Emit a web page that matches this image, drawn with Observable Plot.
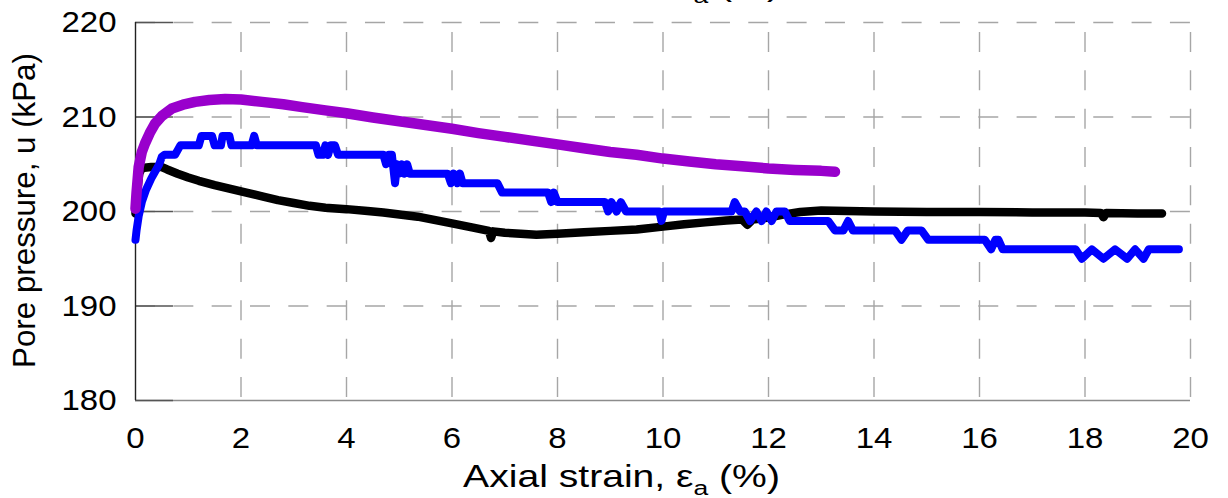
<!DOCTYPE html>
<html><head><meta charset="utf-8">
<script src="https://cdn.jsdelivr.net/npm/d3@7"></script>
<script src="https://cdn.jsdelivr.net/npm/@observablehq/plot@0.6"></script>
<style>
body{margin:0;background:#fff;}
#chart{position:relative;width:1228px;height:498px;overflow:hidden;}
</style></head><body><div id="chart"></div>
<script>
const xTicks = [0,2,4,6,8,10,12,14,16,18,20];
const yTicks = [180,190,200,210,220];
const xLabel = ["Axial strain, ε", "a", " (%)"];
const yLabel = "Pore pressure, u (kPa)";

const purpleStrain = [0,0.02,0.06,0.12,0.18,0.27,0.37,0.5,0.69,0.9,1.13,1.4,1.7,2.0,2.4,2.8,3.16,3.6,4.0,4.5,5.0,5.5,6.0,6.5,7.0,7.5,8.0,8.5,9.0,9.5,10.0,10.5,11.0,11.5,12.0,12.5,13.0,13.26];
const purplePressure = [200.3,202,204.7,206.3,207.2,208.3,209.3,210.1,210.9,211.3,211.6,211.8,211.9,211.85,211.6,211.35,211.05,210.7,210.4,209.95,209.55,209.15,208.75,208.3,207.9,207.5,207.1,206.7,206.3,206.0,205.6,205.3,205.0,204.8,204.55,204.4,204.3,204.2];

const blueStrain = [0,0.02,0.06,0.12,0.2,0.3,0.37,0.45,0.5,0.55,0.75,0.8,0.85,1.2,1.25,1.45,1.5,1.62,1.65,1.78,1.82,2.2,2.25,2.3,3.42,3.47,3.55,3.6,3.65,3.7,3.78,3.84,4.7,4.75,4.8,4.86,4.92,4.96,5.0,5.05,5.1,5.15,5.2,5.92,5.98,6.03,6.1,6.15,6.2,6.86,6.95,7.82,7.88,7.93,8.0,8.9,8.96,9.02,9.12,9.2,9.3,9.93,9.97,10.02,11.3,11.36,11.46,11.55,11.65,11.77,11.87,11.96,12.06,12.15,12.31,12.4,13.13,13.26,13.42,13.51,13.6,14.4,14.52,14.64,14.9,15.03,16.1,16.22,16.3,16.36,16.44,17.82,17.94,18.13,18.35,18.57,18.8,18.95,19.11,19.21,19.78];
const bluePressure = [197,198,199.5,201,202.3,203.5,204.2,205,205.8,206,206,206.5,207,207,208,208,207,207,208,208,207,207,208,207,207,206,206,207,206,207,207,206,206,205,206,206,203,205,204,205,204,205,204,204,203,204,203,204,203,203,202,202,201,202,201,201,200,201,200,201,200,200,199,200,200,201,200,200,199,200,199,200,199,200,200,199,199,198,198,199,198,198,197,198,198,197,197,196,197,197,196,196,195,196,195,196,195,196,195,196,196];

const blackStrain = [0,0.03,0.07,0.12,0.3,0.5,0.6,0.8,1.0,1.2,1.5,1.8,2.1,2.4,2.7,3.0,3.3,3.6,4.0,4.4,4.7,5.35,6.0,6.4,6.7,6.74,6.78,7.0,7.3,7.6,8.0,8.5,9.0,9.5,10.0,10.4,10.8,11.2,11.5,11.6,11.7,12.0,12.3,12.6,13.0,13.5,14,15,16,17,18,18.3,18.35,18.4,19,19.46];
const blackPressure = [199.8,202,204,204.6,204.7,204.7,204.45,204.0,203.6,203.25,202.8,202.4,202.0,201.6,201.2,200.9,200.6,200.4,200.25,200.05,199.9,199.45,198.75,198.3,197.95,197.2,197.9,197.75,197.65,197.55,197.65,197.8,197.95,198.1,198.4,198.65,198.85,199.05,199.15,198.6,199.15,199.35,199.7,199.95,200.1,200.05,200.0,199.95,199.95,199.9,199.9,199.85,199.4,199.85,199.8,199.8];

const gridStyle = {stroke:"#a6a6a6", strokeOpacity:1, strokeWidth:1.4, strokeDasharray:"20,18.33"};
const series = (xs, ys, color, w) => Plot.line(xs.map((_, i) => i), {x: i => xs[i], y: i => ys[i], stroke: color, strokeWidth: w, strokeLinejoin: "round", strokeLinecap: "round"});

const plot = Plot.plot({
  width: 1228, height: 498,
  marginLeft: 135, marginRight: 38, marginTop: 22, marginBottom: 98,
  x: {domain: [0, 20]}, y: {domain: [180, 220]},
  style: {fontFamily: "'Liberation Sans', Arial, sans-serif", fontSize: "30px", background: "#fff", color: "#000"},
  marks: [
    Plot.gridY(yTicks.slice(1), gridStyle),
    Plot.ruleX(xTicks.slice(1), {...gridStyle, y1: 180, y2: 220, strokeDashoffset: 35.33}),
    Plot.ruleY([180], {stroke: "#8c8c8c", strokeWidth: 1.4}),
    Plot.ruleY(yTicks, {x1: 0, x2: 0.72, stroke: "#555", strokeWidth: 1.4}),
    Plot.ruleX([0], {stroke: "#222", strokeWidth: 1.4}),
    Plot.axisX(xTicks, {tickSize: 0, tickPadding: 26, label: null, fontSize: 30}),
    Plot.axisY(yTicks, {tickSize: 0, tickPadding: 19, label: null, fontSize: 30}),
    series(blackStrain, blackPressure, "#000000", 8.5),
    series(blueStrain, bluePressure, "#0000ff", 8),
    series(purpleStrain, purplePressure, "#9900cc", 10.5)
  ]
});

document.getElementById("chart").appendChild(plot);
const svg = d3.select(plot);

// slightly widen tick labels like the reference
svg.selectAll('g[aria-label$="tick label"] text').each(function() {
  const len = this.getComputedTextLength();
  d3.select(this).attr("textLength", len * 1.1).attr("lengthAdjust", "spacingAndGlyphs");
});

function addXLabel(y) {
  const g = svg.append("g").attr("transform", `translate(621.5,${y})`);
  const t = g.append("text").attr("text-anchor", "middle").attr("font-size", 31).attr("fill", "#000");
  t.append("tspan").text(xLabel[0]);
  t.append("tspan").attr("dy", 8).attr("font-size", 21).text(xLabel[1]);
  t.append("tspan").attr("dy", -8).text(xLabel[2]);
  const w = t.node().getBBox().width;
  t.attr("transform", `scale(${317 / w},1)`);
}
addXLabel(487);
addXLabel(-5);

const yl = svg.append("g").attr("transform", "translate(35,210.5) rotate(-90)");
const yt = yl.append("text").attr("text-anchor", "middle").attr("font-size", 31).attr("fill", "#000").text(yLabel);
const yw = yt.node().getBBox().width;
yt.attr("transform", `scale(${315 / yw},1)`);
</script></body></html>
